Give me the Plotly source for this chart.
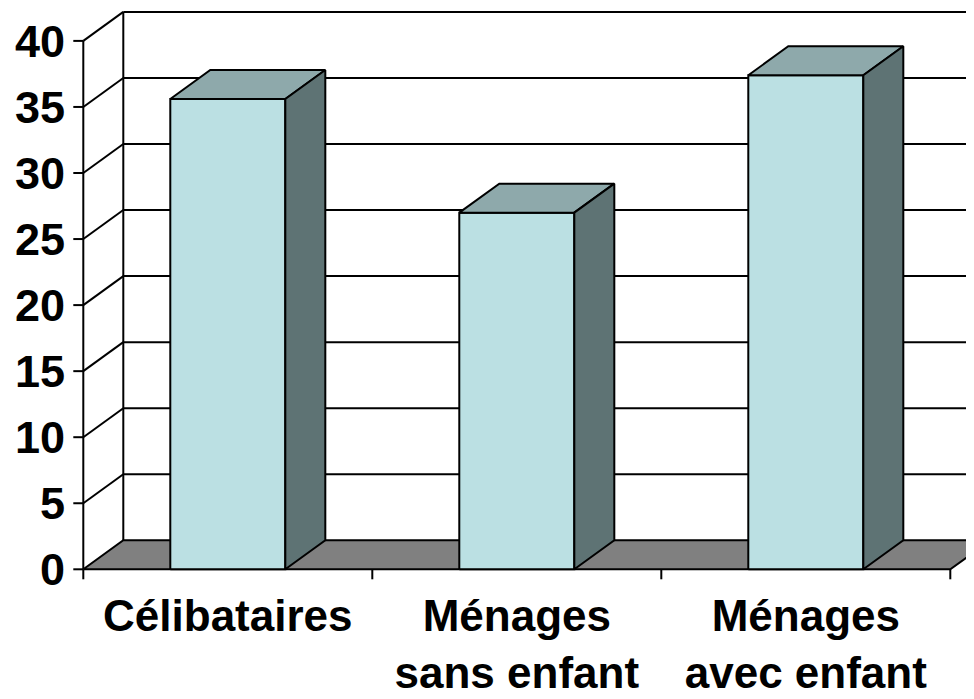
import plotly.graph_objects as go

# ---- data ----
categories = ["Célibataires", "Ménages<br>sans enfant", "Ménages<br>avec enfant"]
values = [35.6, 27.0, 37.4]
y_ticks = [0, 5, 10, 15, 20, 25, 30, 35, 40]

# ---- geometry / style constants (pixels, in page coordinates) ----
PAGE_OFF = 8          # default body margin of the html page
W, H = 974 - PAGE_OFF, 699 - PAGE_OFF
ML = 70 - PAGE_OFF
PLOT_BOTTOM = 583 - PAGE_OFF
MB = H - PLOT_BOTTOM
PX_X = 289.0          # pixels per category unit
PX_Y = 13.21          # pixels per value unit
X0_PX = 83.3 - PAGE_OFF   # pixel of x=0 (front axis)
Y0_PX = 569.3 - PAGE_OFF  # pixel of y=0 (front floor edge)
DEPTH_X_PX, DEPTH_Y_PX = 40.0, 29.0
TICK_PX = 10.0
BAR_W = 0.398

plot_w = W - ML
plot_h = H - MB
xr0 = -(X0_PX - ML) / PX_X
xr1 = xr0 + plot_w / PX_X
yr0 = -(PLOT_BOTTOM - Y0_PX) / PX_Y
yr1 = yr0 + plot_h / PX_Y

dx = DEPTH_X_PX / PX_X
dy = DEPTH_Y_PX / PX_Y
ymax = max(y_ticks)
n = len(categories)
centers = [i + 0.5 for i in range(n)]

FRONT = "#BBE0E3"
TOP = "#8EA9AB"
SIDE = "#5E7374"
FLOOR = "#808080"
LW = 2

fig = go.Figure()


def poly(xs, ys, fill):
    fig.add_trace(go.Scatter(x=xs + [xs[0]], y=ys + [ys[0]], mode="lines", fill="toself",
                             fillcolor=fill, line=dict(color="black", width=LW),
                             hoverinfo="skip", showlegend=False))


def segs(pairs):
    xs, ys = [], []
    for (xa, ya, xb, yb) in pairs:
        xs += [xa, xb, None]
        ys += [ya, yb, None]
    fig.add_trace(go.Scatter(x=xs, y=ys, mode="lines", line=dict(color="black", width=LW),
                             hoverinfo="skip", showlegend=False))


# floor
poly([0, n, n + dx, dx], [0, 0, dy, dy], FLOOR)

# back-wall gridlines, side-wall diagonals, back-left edge
grid = []
for v in y_ticks[1:]:
    grid.append((dx, v + dy, n + dx, v + dy))
    grid.append((0, v, dx, v + dy))
grid.append((dx, dy, dx, ymax + dy))
segs(grid)

# front value axis line and its ticks
axis = [(0, 0, 0, ymax)]
for v in y_ticks:
    axis.append((-TICK_PX / PX_X, v, 0, v))
for k in range(n + 1):
    axis.append((k, 0, k, -TICK_PX / PX_Y))
segs(axis)

# 3D bars
for c, v in zip(centers, values):
    x0, x1 = c - BAR_W / 2, c + BAR_W / 2
    poly([x0, x1, x1, x0], [0, 0, v, v], FRONT)
    poly([x0, x1, x1 + dx, x0 + dx], [v, v, v + dy, v + dy], TOP)
    poly([x1, x1 + dx, x1 + dx, x1], [0, dy, v + dy, v], SIDE)

font = dict(family="Liberation Sans, Arial, sans-serif", size=44, color="black", weight="bold")

fig.update_layout(
    width=W, height=H,
    margin=dict(l=ML, r=0, t=0, b=MB, pad=0, autoexpand=False),
    paper_bgcolor="white", plot_bgcolor="white",
    showlegend=False,
    xaxis=dict(range=[xr0, xr1], showgrid=False, zeroline=False, showline=False, ticks="",
               tickvals=centers, ticktext=categories, tickfont=font, automargin=False,
               ticklabelstandoff=3, fixedrange=True),
    yaxis=dict(range=[yr0, yr1], showgrid=False, zeroline=False, showline=False, ticks="",
               tickvals=y_ticks, ticktext=[str(t) for t in y_ticks], automargin=False,
               tickfont=dict(font, size=45), ticklabelstandoff=4, fixedrange=True),
)

fig.write_html("out.html")
